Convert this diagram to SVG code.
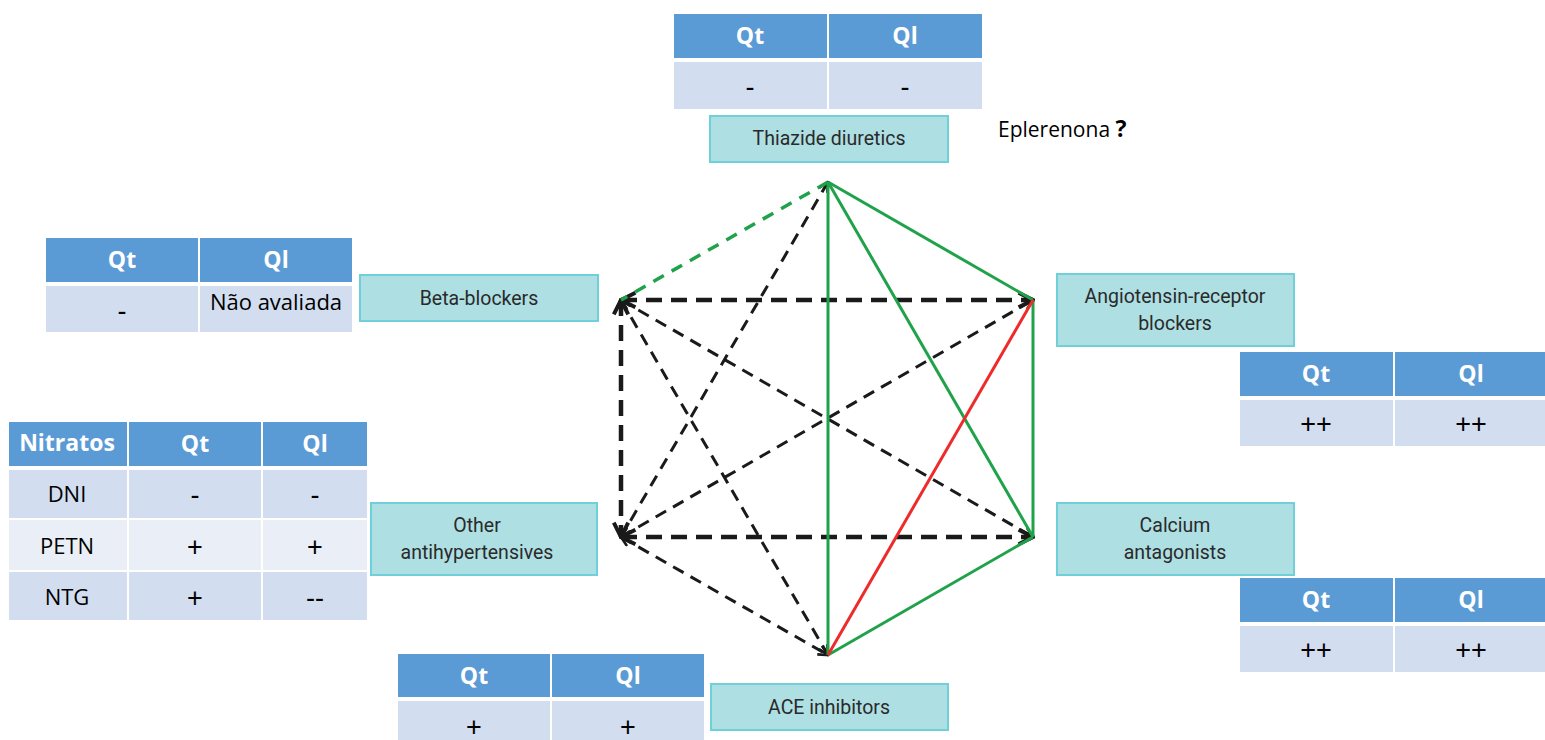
<svg xmlns="http://www.w3.org/2000/svg" width="1545" height="740" viewBox="0 0 1545 740">
<defs>
<style>
.hd{fill:#5B9BD5;stroke:#fff;stroke-width:2}
.rw{fill:#D2DEEF;stroke:#fff;stroke-width:2}
.rl{fill:#EAEFF7;stroke:#fff;stroke-width:2}
.ht{font-family:"Open Sans","Liberation Sans",sans-serif;font-weight:bold;font-size:23px;fill:#fff;text-anchor:middle}
.ct{font-family:"Open Sans","Liberation Sans",sans-serif;font-size:22px;fill:#000;text-anchor:middle}
.sy{font-family:"Liberation Sans",sans-serif;font-size:27px;fill:#000;text-anchor:middle}
.bx{fill:#AEDFE3;stroke:#6FD0D9;stroke-width:2}
.bt{font-family:"Roboto","Liberation Sans",sans-serif;font-size:19.5px;fill:#2a2a2a;text-anchor:middle}
.g{stroke:#1FA24A;stroke-width:3;fill:none}
.gd{stroke:#1FA24A;stroke-width:3.5;fill:none;stroke-dasharray:12 9}
.r{stroke:#EE2B2B;stroke-width:3;fill:none}
.kd{stroke:#1a1a1a;stroke-width:3;fill:none;stroke-dasharray:12 8;marker-end:url(#ah);marker-start:url(#ah)}
.kt{stroke:#1a1a1a;stroke-width:4.5;fill:none;stroke-dasharray:16 9;marker-end:url(#ah);marker-start:url(#ah)}
</style>
<marker id="ah" viewBox="0 0 10 10" refX="9" refY="5" markerWidth="4" markerHeight="4" orient="auto-start-reverse" markerUnits="strokeWidth">
<path d="M1,1 L9,5 L1,9" fill="none" stroke="#1a1a1a" stroke-width="2.2"/>
</marker>
</defs>
<rect width="1545" height="740" fill="#fff"/>

<g id="connectors">
<line class="kt" x1="621" y1="300" x2="1033" y2="300"/>
<line class="kt" x1="621" y1="537" x2="1033" y2="537"/>
<line class="kt" x1="621" y1="300" x2="621" y2="537"/>
<line class="kd" x1="828" y1="182" x2="621" y2="537"/>
<line class="kd" x1="621" y1="300" x2="828" y2="655"/>
<line class="kd" x1="621" y1="300" x2="1033" y2="537"/>
<line class="kd" x1="621" y1="537" x2="1033" y2="300"/>
<line class="kd" x1="621" y1="537" x2="828" y2="655"/>
<line class="gd" x1="828" y1="182" x2="621" y2="300"/>
<line class="g" x1="828" y1="182" x2="1033" y2="300"/>
<line class="g" x1="828" y1="182" x2="828" y2="655"/>
<line class="g" x1="828" y1="182" x2="1033" y2="537"/>
<line class="g" x1="1033" y1="300" x2="1033" y2="537"/>
<line class="g" x1="1033" y1="537" x2="828" y2="655"/>
<line class="r" x1="1033" y1="300" x2="828" y2="655"/>
</g>

<g id="thiazide-table">
<rect class="hd" x="673" y="13" width="155" height="46"/>
<rect class="hd" x="828" y="13" width="155" height="46"/>
<rect class="rw" x="673" y="61" width="155" height="49"/>
<rect class="rw" x="828" y="61" width="155" height="49"/>
<text class="ht" x="750" y="44">Qt</text>
<text class="ht" x="905" y="44">Ql</text>
<text class="sy" x="750" y="96">-</text>
<text class="sy" x="905" y="96">-</text>
</g>
<g id="thiazide">
<rect class="bx" x="710" y="116" width="238" height="46"/>
<text class="bt" x="829" y="145">Thiazide diuretics</text>
</g>
<g id="eplerenona">
<text x="998" y="137" font-family="'Open Sans','Liberation Sans',sans-serif" font-size="21" fill="#000">Eplerenona <tspan font-weight="bold" font-size="23">?</tspan></text>
</g>

<g id="beta-table">
<rect class="hd" x="45" y="237" width="154" height="46"/>
<rect class="hd" x="199" y="237" width="154" height="46"/>
<rect class="rw" x="45" y="285" width="154" height="48"/>
<rect class="rw" x="199" y="285" width="154" height="48"/>
<text class="ht" x="122" y="268">Qt</text>
<text class="ht" x="276" y="268">Ql</text>
<text class="sy" x="122" y="320">-</text>
<text class="ct" x="276" y="310" font-size="18.5">Não avaliada</text>
</g>
<g id="beta">
<rect class="bx" x="360" y="275" width="238" height="46"/>
<text class="bt" x="479" y="305">Beta-blockers</text>
</g>

<g id="arb">
<rect class="bx" x="1057" y="274" width="237" height="72"/>
<text class="bt" x="1175" y="303">Angiotensin-receptor</text>
<text class="bt" x="1175" y="330">blockers</text>
</g>
<g id="arb-table">
<rect class="hd" x="1239" y="351" width="155" height="46"/>
<rect class="hd" x="1394" y="351" width="155" height="46"/>
<rect class="rw" x="1239" y="399" width="155" height="48"/>
<rect class="rw" x="1394" y="399" width="155" height="48"/>
<text class="ht" x="1316" y="382">Qt</text>
<text class="ht" x="1471" y="382">Ql</text>
<text class="sy" x="1316" y="433">++</text>
<text class="sy" x="1471" y="433">++</text>
</g>

<g id="nitratos-table">
<rect class="hd" x="8" y="421" width="120" height="46"/>
<rect class="hd" x="128" y="421" width="134" height="46"/>
<rect class="hd" x="262" y="421" width="106" height="46"/>
<rect class="rw" x="8" y="469" width="120" height="50"/>
<rect class="rw" x="128" y="469" width="134" height="50"/>
<rect class="rw" x="262" y="469" width="106" height="50"/>
<rect class="rl" x="8" y="519" width="120" height="52"/>
<rect class="rl" x="128" y="519" width="134" height="52"/>
<rect class="rl" x="262" y="519" width="106" height="52"/>
<rect class="rw" x="8" y="571" width="120" height="50"/>
<rect class="rw" x="128" y="571" width="134" height="50"/>
<rect class="rw" x="262" y="571" width="106" height="50"/>
<text class="ht" x="67" y="451" font-size="20">Nitratos</text>
<text class="ht" x="195" y="452">Qt</text>
<text class="ht" x="315" y="452">Ql</text>
<text class="ct" x="67" y="502">DNI</text>
<text class="sy" x="195" y="504">-</text>
<text class="sy" x="315" y="504">-</text>
<text class="ct" x="67" y="554">PETN</text>
<text class="sy" x="195" y="556">+</text>
<text class="sy" x="315" y="556">+</text>
<text class="ct" x="67" y="605">NTG</text>
<text class="sy" x="195" y="607">+</text>
<text class="sy" x="315" y="607">--</text>
</g>
<g id="other">
<rect class="bx" x="371" y="503" width="226" height="72"/>
<text class="bt" x="477" y="532">Other</text>
<text class="bt" x="477" y="559">antihypertensives</text>
</g>

<g id="calcium">
<rect class="bx" x="1057" y="503" width="237" height="72"/>
<text class="bt" x="1175" y="532">Calcium</text>
<text class="bt" x="1175" y="559">antagonists</text>
</g>
<g id="ca-table">
<rect class="hd" x="1239" y="577" width="155" height="46"/>
<rect class="hd" x="1394" y="577" width="155" height="46"/>
<rect class="rw" x="1239" y="625" width="155" height="48"/>
<rect class="rw" x="1394" y="625" width="155" height="48"/>
<text class="ht" x="1316" y="608">Qt</text>
<text class="ht" x="1471" y="608">Ql</text>
<text class="sy" x="1316" y="659">++</text>
<text class="sy" x="1471" y="659">++</text>
</g>

<g id="ace-table">
<rect class="hd" x="397" y="653" width="154" height="45"/>
<rect class="hd" x="551" y="653" width="154" height="45"/>
<rect class="rw" x="397" y="700" width="154" height="42"/>
<rect class="rw" x="551" y="700" width="154" height="42"/>
<text class="ht" x="474" y="684">Qt</text>
<text class="ht" x="628" y="684">Ql</text>
<text class="sy" x="474" y="736">+</text>
<text class="sy" x="628" y="736">+</text>
</g>
<g id="ace">
<rect class="bx" x="711" y="684" width="237" height="46"/>
<text class="bt" x="829" y="714">ACE inhibitors</text>
</g>
</svg>
